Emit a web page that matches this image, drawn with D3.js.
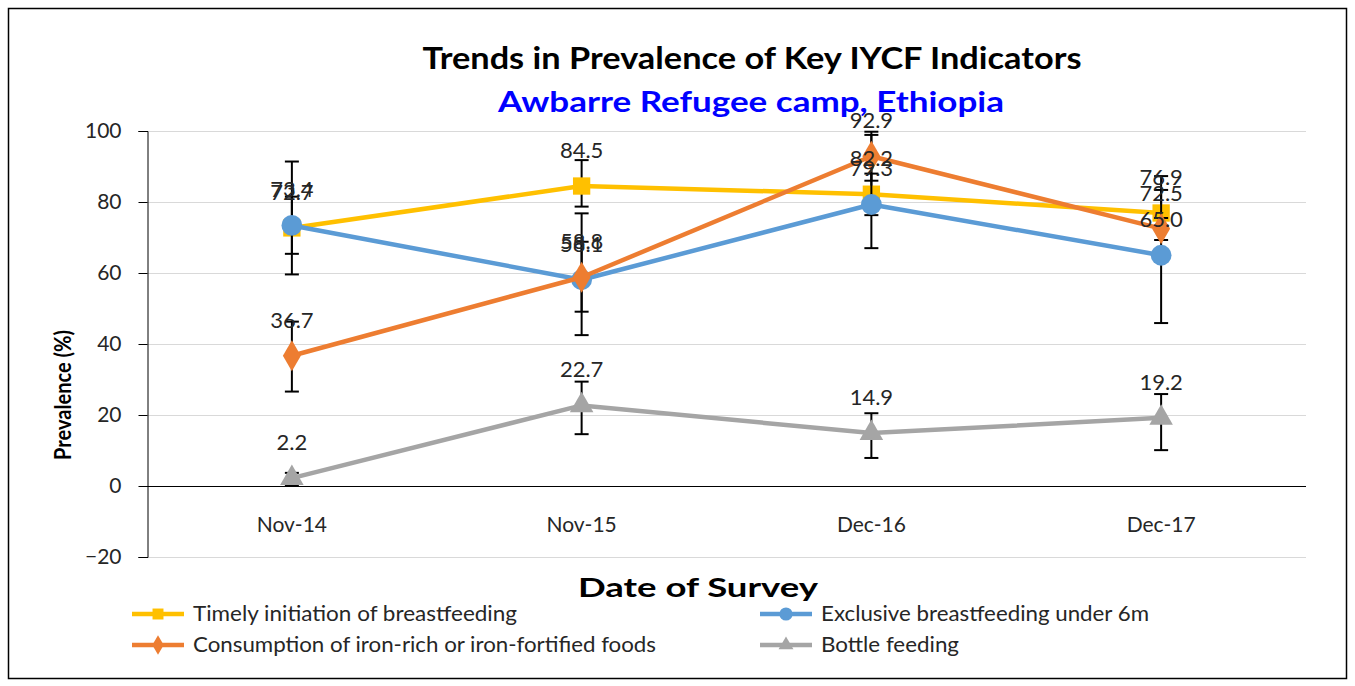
<!DOCTYPE html>
<html>
<head>
<meta charset="utf-8">
<script src="https://cdn.jsdelivr.net/npm/d3@7"></script>
<style>
  body { margin: 0; background: #fff; }
  text { font-family: Lato, "Open Sans", "Liberation Sans", sans-serif; }
</style>
</head>
<body>
<svg id="chart" width="1355" height="686"></svg>
<script>
// survey rounds
var categories = ['Nov-14', 'Nov-15', 'Dec-16', 'Dec-17'];
var yTicks = [-20, 0, 20, 40, 60, 80, 100];

// prevalence (%) per indicator
var timelyValues = [72.7, 84.5, 82.2, 76.9];
var exclusiveValues = [73.4, 58.1, 79.3, 65.0];
var ironValues = [36.7, 58.8, 92.9, 72.5];
var bottleValues = [2.2, 22.7, 14.9, 19.2];

// confidence intervals [low, high]
var timelyCI = [[65.4, 81.5], [78.7, 91.8], [76.3, 88.0], [73.0, 87.3]];
var exclusiveCI = [[59.6, 91.4], [42.5, 76.8], [67.0, 98.9], [45.9, 83.4]];
var ironCI = [[26.6, 46.3], [49.1, 68.8], [86.0, 99.8], [69.3, 75.5]];
var bottleCI = [[0.0, 3.7], [14.6, 29.4], [7.9, 20.5], [10.1, 25.9]];

var seriesNames = [
    'Timely initiation of breastfeeding',
    'Exclusive breastfeeding under 6m',
    'Consumption of iron-rich or iron-fortified foods',
    'Bottle feeding'
];

var series = [
    {name: seriesNames[0], values: timelyValues, ci: timelyCI, color: '#FFC000', symbol: d3.symbolSquare, size: 300},
    {name: seriesNames[1], values: exclusiveValues, ci: exclusiveCI, color: '#5B9BD5', symbol: d3.symbolCircle, size: 340},
    {name: seriesNames[2], values: ironValues, ci: ironCI, color: '#ED7D31', symbol: d3.symbolDiamond, size: 280},
    {name: seriesNames[3], values: bottleValues, ci: bottleCI, color: '#A5A5A5', symbol: d3.symbolTriangle, size: 240}
];

var svg = d3.select('#chart');
var plotLeft = 147, plotRight = 1306, plotTop = 131, plotBottom = 557;

var x = d3.scalePoint().domain(categories).range([plotLeft, plotRight]).padding(0.5);
var y = d3.scaleLinear().domain([-20, 100]).range([plotBottom, plotTop]);

// outer frame
svg.append('rect')
    .attr('x', 8.5).attr('y', 8.5)
    .attr('width', 1338).attr('height', 670)
    .attr('fill', '#fff').attr('stroke', '#000').attr('stroke-width', 1.5);

// title
svg.append('text')
    .attr('x', 752).attr('y', 69)
    .attr('text-anchor', 'middle')
    .attr('font-size', 31).attr('font-weight', 'bold').attr('fill', '#000')
    .attr('textLength', 659).attr('lengthAdjust', 'spacingAndGlyphs')
    .text('Trends in Prevalence of Key IYCF Indicators');

svg.append('text')
    .attr('x', 751).attr('y', 112)
    .attr('text-anchor', 'middle')
    .attr('font-size', 29).attr('font-weight', 'bold').attr('fill', '#0000FF')
    .attr('textLength', 506).attr('lengthAdjust', 'spacingAndGlyphs')
    .text('Awbarre Refugee camp, Ethiopia');

// gridlines
svg.append('g')
    .selectAll('line')
    .data(yTicks.filter(function(d) { return d !== 0; }))
    .enter().append('line')
    .attr('x1', plotLeft).attr('x2', plotRight)
    .attr('y1', function(d) { return y(d) + 0.5; })
    .attr('y2', function(d) { return y(d) + 0.5; })
    .attr('stroke', '#D9D9D9').attr('stroke-width', 1);

// y axis
var yAxis = svg.append('g')
    .attr('transform', 'translate(' + (plotLeft + 0.5) + ',0)')
    .call(d3.axisLeft(y).tickValues(yTicks).tickSize(9).tickPadding(17));
yAxis.select('.domain').attr('stroke', '#000');
yAxis.selectAll('.tick line').attr('stroke', '#000');
yAxis.selectAll('text')
    .attr('font-size', 21).attr('fill', '#262626')
    .style('font-family', 'Lato, "Open Sans", sans-serif');

// zero line (category axis)
svg.append('line')
    .attr('x1', plotLeft).attr('x2', plotRight)
    .attr('y1', y(0) + 0.5).attr('y2', y(0) + 0.5)
    .attr('stroke', '#000').attr('stroke-width', 1);

// category labels
svg.append('g')
    .selectAll('text')
    .data(categories)
    .enter().append('text')
    .attr('x', function(d) { return x(d); })
    .attr('y', 532)
    .attr('text-anchor', 'middle')
    .attr('font-size', 21).attr('fill', '#262626')
    .text(function(d) { return d; });

// axis titles
svg.append('text')
    .attr('transform', 'translate(71,395) rotate(-90)')
    .attr('text-anchor', 'middle')
    .attr('font-size', 23).attr('font-weight', 'bold').attr('fill', '#000')
    .attr('textLength', 130).attr('lengthAdjust', 'spacingAndGlyphs')
    .text('Prevalence (%)');

svg.append('text')
    .attr('x', 698).attr('y', 597)
    .attr('text-anchor', 'middle')
    .attr('font-size', 27).attr('font-weight', 'bold').attr('fill', '#000')
    .attr('textLength', 240).attr('lengthAdjust', 'spacingAndGlyphs')
    .text('Date of Survey');

var line = d3.line()
    .x(function(d, i) { return x(categories[i]); })
    .y(function(d) { return y(d); });

var plot = svg.append('g');

series.forEach(function(s) {
    var g = plot.append('g');

    // error bars
    var eb = g.selectAll('.eb')
        .data(s.ci)
        .enter().append('g')
        .attr('stroke', '#000').attr('stroke-width', 2);
    eb.append('line')
        .attr('x1', function(d, i) { return x(categories[i]); })
        .attr('x2', function(d, i) { return x(categories[i]); })
        .attr('y1', function(d) { return y(d[0]); })
        .attr('y2', function(d) { return y(d[1]); });
    [0, 1].forEach(function(k) {
        eb.append('line')
            .attr('x1', function(d, i) { return x(categories[i]) - 7; })
            .attr('x2', function(d, i) { return x(categories[i]) + 7; })
            .attr('y1', function(d) { return y(d[k]); })
            .attr('y2', function(d) { return y(d[k]); });
    });

    g.append('path')
        .datum(s.values)
        .attr('d', line)
        .attr('fill', 'none')
        .attr('stroke', s.color)
        .attr('stroke-width', 4.5)
        .attr('stroke-linejoin', 'round');

    g.selectAll('.marker')
        .data(s.values)
        .enter().append('path')
        .attr('transform', function(d, i) {
            return 'translate(' + x(categories[i]) + ',' + y(d) + ')';
        })
        .attr('d', d3.symbol().type(s.symbol).size(s.size))
        .attr('fill', s.color);
});

// data labels on top
series.forEach(function(s) {
    plot.append('g')
        .selectAll('text')
        .data(s.values)
        .enter().append('text')
        .attr('x', function(d, i) { return x(categories[i]); })
        .attr('y', function(d) { return y(d) - 28; })
        .attr('text-anchor', 'middle')
        .attr('font-size', 22).attr('fill', '#262626')
        .text(function(d) { return d.toFixed(1); });
});

// legend
var legendItems = [
    {s: series[0], x: 132, y: 614, w: 324},
    {s: series[1], x: 760, y: 614, w: 328},
    {s: series[2], x: 132, y: 645, w: 463},
    {s: series[3], x: 760, y: 645, w: 138}
];

var legend = svg.append('g')
    .selectAll('g')
    .data(legendItems)
    .enter().append('g')
    .attr('transform', function(d) { return 'translate(' + d.x + ',' + d.y + ')'; });

legend.append('line')
    .attr('x1', 0).attr('x2', 52)
    .attr('y1', 0).attr('y2', 0)
    .attr('stroke', function(d) { return d.s.color; })
    .attr('stroke-width', 4.5);

legend.append('path')
    .attr('transform', 'translate(26,0)')
    .attr('d', function(d) { return d3.symbol().type(d.s.symbol).size(d.s.size * 0.4)(); })
    .attr('fill', function(d) { return d.s.color; });

legend.append('text')
    .attr('x', 61).attr('y', 7)
    .attr('font-size', 21).attr('fill', '#262626')
    .attr('textLength', function(d) { return d.w; })
    .attr('lengthAdjust', 'spacingAndGlyphs')
    .text(function(d) { return d.s.name; });
</script>
</body>
</html>
